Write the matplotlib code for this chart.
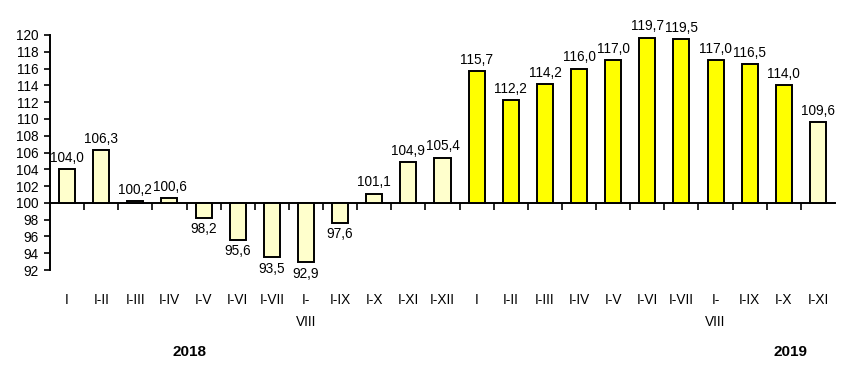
import numpy as np
import matplotlib.pyplot as plt

plt.rcParams['font.family'] = ['Liberation Sans', 'DejaVu Sans']

labels = ['I', 'I-II', 'I-III', 'I-IV', 'I-V', 'I-VI', 'I-VII', 'I-\nVIII', 'I-IX', 'I-X', 'I-XI', 'I-XII',
          'I', 'I-II', 'I-III', 'I-IV', 'I-V', 'I-VI', 'I-VII', 'I-\nVIII', 'I-IX', 'I-X', 'I-XI']
values = [104.0, 106.3, 100.2, 100.6, 98.2, 95.6, 93.5, 92.9, 97.6, 101.1, 104.9, 105.4,
          115.7, 112.2, 114.2, 116.0, 117.0, 119.7, 119.5, 117.0, 116.5, 114.0, 109.6]
years = ['2018', '2019']

light = '#FFFFCC'
bright = '#FFFF00'
colors = [light] * 12 + [bright] * 10 + [light]

fig = plt.figure(figsize=(8.46, 3.76), dpi=100)
ax = fig.add_axes([50 / 846, 1 - 270 / 376, 785 / 846, 235 / 376])

x = np.arange(len(values))
base = 100
heights = [v - base for v in values]
ax.bar(x, heights, bottom=base, width=0.47, color=colors, edgecolor='black', linewidth=1.4, zorder=3)

for xi, v in zip(x, values):
    txt = ('%.1f' % v).replace('.', ',')
    if v >= base:
        ax.annotate(txt, (xi, v), xytext=(0, 3), textcoords='offset points',
                    ha='center', va='bottom', fontsize=9.8)
    else:
        ax.annotate(txt, (xi, v), xytext=(0, -3), textcoords='offset points',
                    ha='center', va='top', fontsize=9.8)

ax.set_xlim(-0.5, len(values) - 0.5)
ax.set_ylim(92, 120)
ax.set_yticks(np.arange(92, 121, 2))
ax.tick_params(axis='y', labelsize=9.8, length=4, width=1.2, pad=4)

ax.spines['top'].set_visible(False)
ax.spines['right'].set_visible(False)
ax.spines['bottom'].set_position(('data', base))
ax.spines['left'].set_linewidth(1.4)
ax.spines['bottom'].set_linewidth(1.4)

ax.set_xticks(np.arange(0.5, len(values) - 0.5, 1))
ax.set_xticklabels([])
ax.tick_params(axis='x', length=5, width=1.2, direction='out')

trans = ax.get_xaxis_transform()
for xi, lab in zip(x, labels):
    ax.text(xi, -0.1, lab, transform=trans, ha='center', va='top', fontsize=9.8, linespacing=1.7)

ax.text(3.6, -0.32, years[0], transform=trans, ha='center', va='top', fontsize=11, fontweight='bold')
ax.text(21.2, -0.32, years[1], transform=trans, ha='center', va='top', fontsize=11, fontweight='bold')

fig.savefig('out.png', dpi=100)
